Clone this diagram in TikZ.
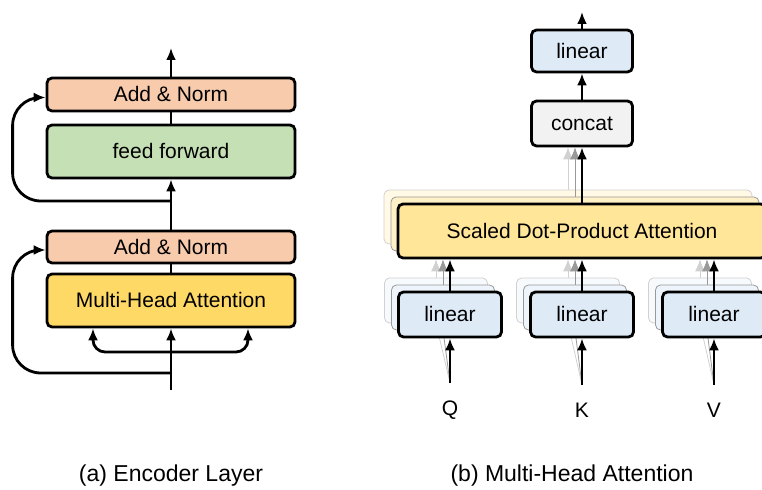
\documentclass[tikz,border=0pt]{standalone}
\usepackage{fontspec}
\setmainfont{Liberation Sans}
\usetikzlibrary{calc,arrows.meta,backgrounds}
\def\stackshift{7}
\def\blockfont{\fontsize{10.5}{12}\selectfont}
\def\subcapfont{\fontsize{11.5}{13}\selectfont}
\definecolor{normcolor}{HTML}{F8CBAD}
\definecolor{ffcolor}{HTML}{C5E0B4}
\definecolor{mhacolor}{HTML}{FFD966}
\definecolor{sdpacolor}{HTML}{FFE699}
\definecolor{lincolor}{HTML}{DEEBF7}
\definecolor{concatcolor}{HTML}{F2F2F2}

\begin{document}
\begin{tikzpicture}[x=0.5pt,y=-0.5pt,line width=1.4pt,>={Latex[length=6pt,width=5pt]}]
            \tikzstyle{block}=[draw,rounded corners=2.5pt,inner sep=0pt,font=\blockfont]
            \tikzstyle{wide}=[block,minimum width=124pt]
            \tikzstyle{lin}=[block,fill=lincolor,minimum width=51.5pt,minimum height=22.5pt]
            \tikzstyle{back1}=[draw=black!40]
            \tikzstyle{back2}=[draw=black!18]
            \tikzstyle{label}=[font=\blockfont]
            \tikzstyle{subcap}=[font=\subcapfont]

            \useasboundingbox (0,0) rectangle (762,490);

            % Encoder layer
            \node[wide,fill=normcolor,minimum height=16.5pt] (norm2) at (171,94.5) {Add \& Norm};
            \node[wide,fill=ffcolor,minimum height=26.5pt] (ff) at (171,151.5) {feed forward};
            \node[wide,fill=normcolor,minimum height=16pt] (norm1) at (171,247) {Add \& Norm};
            \node[wide,fill=mhacolor,minimum height=26.5pt] (mha) at (171,300.5) {Multi-Head Attention};
            \coordinate (enc-in) at (171,390);
            \coordinate (enc-out) at (171,48);
            \coordinate (split) at (171,352);
            \coordinate (res1) at (171,373);
            \coordinate (res2) at (171,201);

            \draw[->] (enc-in) -- (mha.south);
            \draw[->,rounded corners=6pt] (split) -| ($(mha.south)+(-78,0)$);
            \draw[->,rounded corners=6pt] (split) -| ($(mha.south)+(77,0)$);
            \draw (mha) -- (norm1);
            \draw[->] (norm1) -- (ff);
            \draw (ff) -- (norm2);
            \draw[->] (norm2) -- (enc-out);

            % Residual connections
            \draw[->,rounded corners=14pt] (res1) -| ($(norm1.west)+(-33,3)$) -- ($(norm1.west)+(0,3)$);
            \draw[->,rounded corners=14pt] (res2) -| ($(norm2.west)+(-33,3)$) -- ($(norm2.west)+(0,3)$);

            % Multi-head attention, front copy
            \node[block,fill=sdpacolor,minimum width=184pt,minimum height=27pt] (sdpa) at (582,231) {Scaled Dot-Product Attention};
            \node[block,fill=concatcolor,minimum width=50.5pt,minimum height=22.5pt] (concat) at (582,123.5) {concat};
            \node[block,fill=lincolor,minimum width=50.5pt,minimum height=21pt] (lout) at (582,51) {linear};
            \coordinate (mh-out) at (582,12);
            \foreach \name/\x/\txt in {q/450/Q,k/582/K,v/714/V} {
                \node[lin] (l\name) at (\x,314.5) {linear};
                \node[label] (in-\name) at (\x,410) {\txt};
            }

            % The other heads, stacked behind
            \begin{scope}[on background layer]
            \foreach \s/\sty/\f in {2/back2/25,1/back1/55} {
                \node[block,\sty,fill=sdpacolor!\f!white,minimum width=184pt,minimum height=27pt]
                    (sdpa-\s) at (582-\stackshift*\s,231-\stackshift*\s) {};
                \foreach \name/\x in {q/450,k/582,v/714}
                    \node[lin,\sty,fill=lincolor!\f!white] (l\name-\s) at (\x-\stackshift*\s,314.5-\stackshift*\s) {};
            }
            \foreach \s/\col in {2/black!18,1/black!40} {
                \draw[->,\col] (sdpa-\s.north) -- (sdpa-\s.north |- concat.south);
                \foreach \name in {q,k,v} {
                    \draw[->,\col] (l\name-\s.north) -- (l\name-\s.north |- sdpa.south);
                    \draw[\col] ([yshift=5pt]in-\name.north) -- (l\name-\s.south);
                }
            }
            \end{scope}

            % Connect the front copy
            \foreach \name in {q,k,v} {
                \draw[->] ([yshift=5pt]in-\name.north) -- (l\name.south);
                \draw[->] (l\name) -- (l\name |- sdpa.south);
            }
            \draw[->] (sdpa.north -| concat) -- (concat);
            \draw[->] (concat) -- (lout);
            \draw[->] (lout) -- (mh-out);

            % Captions
            \node[subcap] (cap-a) at (171,476) {(a) Encoder Layer};
            \node[subcap] (cap-b) at (572,476) {(b) Multi-Head Attention};
        \end{tikzpicture}
\end{document}
